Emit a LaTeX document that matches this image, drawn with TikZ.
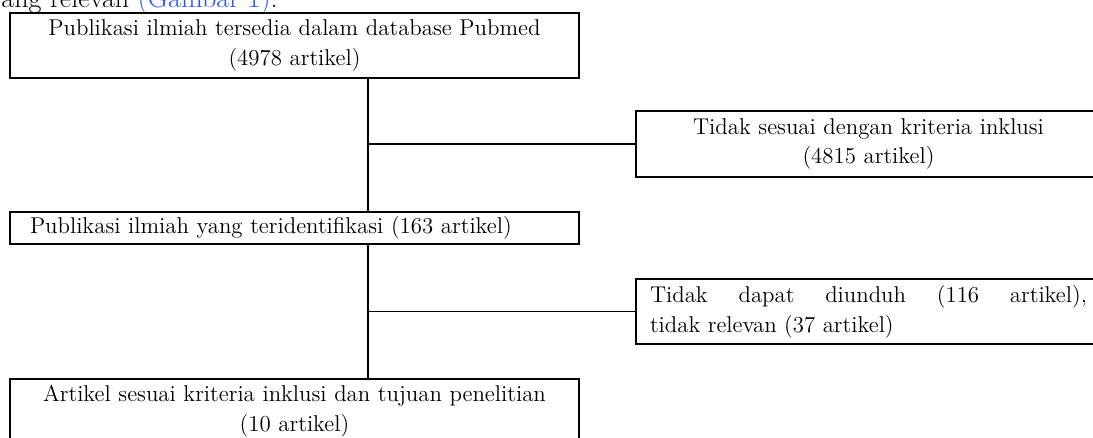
\documentclass[tikz,border=0pt]{standalone}
\usepackage{tikz}
\definecolor{linkblue}{RGB}{45,85,235}
\begin{document}
\begin{tikzpicture}[
	box/.style={draw, line width=1pt, inner xsep=0.4cm, inner ysep=0pt, text width=10.58cm, minimum height=1.3cm, font=\fontsize{13}{17}\selectfont},
	sidebox/.style={box, inner xsep=0.28cm, text width=8.74cm},
	link/.style={line width=1pt},
	]
	\useasboundingbox (0, 0) rectangle (21.86, 8.74);
	\node [anchor=base west, inner sep=0pt, font=\fontsize{16}{19}\selectfont] (intro) at (0.02, 8.58) {ang relevan \textcolor{linkblue}{(Gambar 1)}.};
	\node [box, align=center] (pubmed) at (5.89, 7.83) {Publikasi ilmiah tersedia dalam database Pubmed\\(4978 artikel)};
	\node [box, align=left, minimum height=0.64cm] (found) at (5.89, 4.18) {Publikasi ilmiah yang teridentifikasi (163 artikel)};
	\node [box, align=center] (final) at (5.89, 0.51) {Artikel sesuai kriteria inklusi dan tujuan penelitian\\(10 artikel)};
	\node [sidebox, align=center, minimum height=1.32cm] (excl) at (17.37, 5.86) {Tidak sesuai dengan kriteria inklusi\\(4815 artikel)};
	\node [sidebox, align=justify] (nodl) at (17.37, 2.51) {Tidak dapat diunduh (116 artikel),\linebreak tidak relevan (37 artikel)};
	\coordinate (spine) at (7.36, 0);
	\draw [link] (pubmed.south -| spine) -- (found.north -| spine);
	\draw [link] (found.south -| spine) -- (final.north -| spine);
	\draw [link] (excl.west -| spine) -- (excl.west);
	\draw [link] (nodl.west -| spine) -- (nodl.west);
\end{tikzpicture}
\end{document}
